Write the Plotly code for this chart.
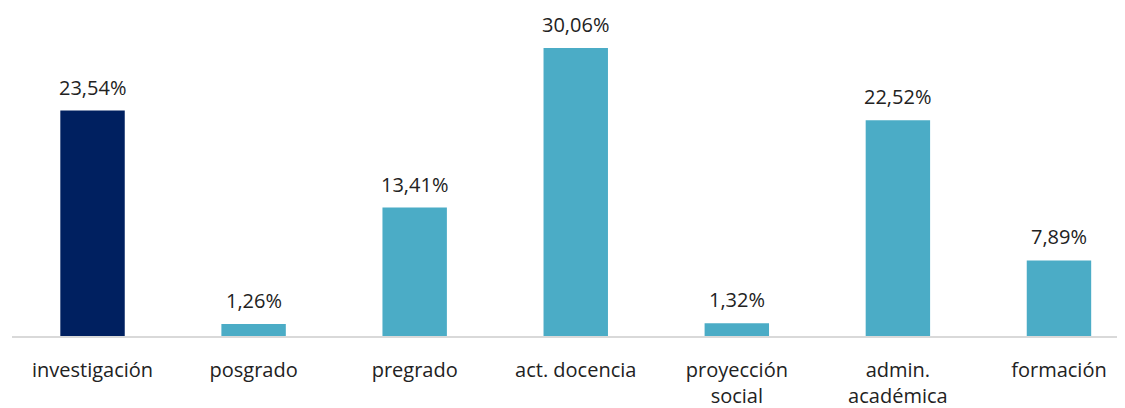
import plotly.graph_objects as go

categorias = ["investigación", "posgrado", "pregrado", "act. docencia",
              "proyección<br>social", "admin.<br>académica", "formación"]
porcentajes = [23.54, 1.26, 13.41, 30.06, 1.32, 22.52, 7.89]
colores = ["#002060", "#4BACC6", "#4BACC6", "#4BACC6", "#4BACC6", "#4BACC6", "#4BACC6"]

etiquetas = [f"{v:.2f}%".replace(".", ",") for v in porcentajes]
posiciones = list(range(len(categorias)))

fig = go.Figure(go.Bar(
    x=posiciones,
    y=porcentajes,
    marker=dict(color=colores, line=dict(width=0)),
    width=0.4,
))

# etiquetas de valor sobre cada barra
for xi, yi, t in zip(posiciones, porcentajes, etiquetas):
    fig.add_annotation(x=xi, y=yi, text=t, showarrow=False,
                       yanchor="bottom", yshift=8,
                       font=dict(size=20, color="#222222"))

# la página trae 8px de margen en el body
fig.update_layout(
    width=1117, height=400,
    margin=dict(l=4, r=0, t=0, b=72),
    plot_bgcolor="white", paper_bgcolor="white",
    font=dict(family="Open Sans, sans-serif", size=20, color="#222222"),
    showlegend=False,
)
fig.update_xaxes(
    tickmode="array", tickvals=posiciones, ticktext=categorias,
    range=[-0.5, 6.41],
    showline=True, linecolor="#d9d9d9", linewidth=2,
    showgrid=False, ticks="outside", ticklen=15, tickcolor="rgba(0,0,0,0)",
    tickfont=dict(size=20, color="#222222"),
)
fig.update_yaxes(range=[0, 34.24], visible=False, showgrid=False)

fig.write_html("out.html")
